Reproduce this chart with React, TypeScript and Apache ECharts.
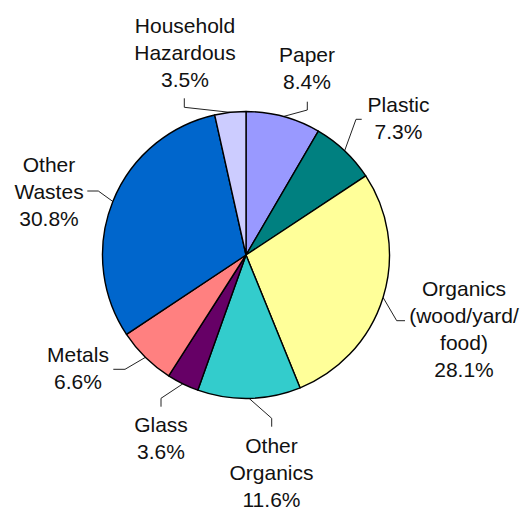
import React, { useEffect, useRef } from "react";
import * as echarts from "echarts";

const categories = [
  "Paper",
  "Plastic",
  "Organics\n(wood/yard/\nfood)",
  "Other\nOrganics",
  "Glass",
  "Metals",
  "Other\nWastes",
  "Household\nHazardous",
];
const values = [8.4, 7.3, 28.1, 11.6, 3.6, 6.6, 30.8, 3.5];
const colors = ["#9999FF", "#008080", "#FFFF99", "#33CCCC", "#660066", "#FF8080", "#0066CC", "#CCCCFF"];

// label anchor (center x, center y), leader elbow and end point
const labelAnchors: number[][] = [
  [307, 68],
  [398.5, 118],
  [464, 329],
  [271.5, 472],
  [161, 438],
  [78, 368],
  [49, 191],
  [185, 52],
];
const leaderBends: number[][][] = [
  [[307.3, 110], [307.3, 101.7]],
  [[356, 119.3], [361.7, 119.3]],
  [[396.7, 320.7], [405, 320.7]],
  [[271.7, 418.3], [271.7, 426.7]],
  [[161, 398.3], [161, 406.7]],
  [[125, 369.3], [113.3, 369.3]],
  [[98.3, 191], [87.3, 191]],
  [[184.3, 107.3], [184.3, 98.3]],
];

const CX = 246;
const CY = 255;
const R = 143.5;

export default function App() {
  const ref = useRef<HTMLDivElement>(null);
  useEffect(() => {
    document.body.style.margin = "0";
    const chart = echarts.init(ref.current!, null, { renderer: "svg" });
    const total = values.reduce((a, b) => a + b, 0);
    const starts: number[][] = [];
    let acc = 0;
    values.forEach((v) => {
      const mid = ((acc + v / 2) / total) * Math.PI * 2;
      starts.push([CX + R * Math.sin(mid), CY - R * Math.cos(mid)]);
      acc += v;
    });
    chart.setOption({
      animation: false,
      backgroundColor: "#ffffff",
      series: [
        {
          type: "pie",
          center: [CX, CY],
          radius: R,
          startAngle: 90,
          clockwise: true,
          avoidLabelOverlap: false,
          data: categories.map((c, i) => ({
            name: c,
            value: values[i],
            itemStyle: { color: colors[i] },
          })),
          itemStyle: { borderColor: "#000000", borderWidth: 1.4 },
          label: {
            show: true,
            formatter: (p: any) => `${p.name}\n${Number(p.value).toFixed(1)}%`,
            fontFamily: "Liberation Sans, Arial, sans-serif",
            fontSize: 21,
            lineHeight: 27,
            color: "#111111",
            align: "center",
          },
          labelLine: {
            show: true,
            lineStyle: { color: "#222222", width: 1 },
          },
          labelLayout: (params: any) => {
            const i = params.dataIndex;
            const a = labelAnchors[i];
            const b = leaderBends[i];
            const s =
              params.labelLinePoints && params.labelLinePoints[0]
                ? params.labelLinePoints[0]
                : starts[i];
            return {
              x: a[0],
              y: a[1],
              align: "center",
              verticalAlign: "middle",
              labelLinePoints: [starts[i] || s, b[0], b[1]],
            };
          },
        },
      ],
    });
    return () => chart.dispose();
  }, []);
  return (
    <div
      ref={ref}
      style={{ position: "absolute", left: 0, top: 0, width: 520, height: 511 }}
    />
  );
}
